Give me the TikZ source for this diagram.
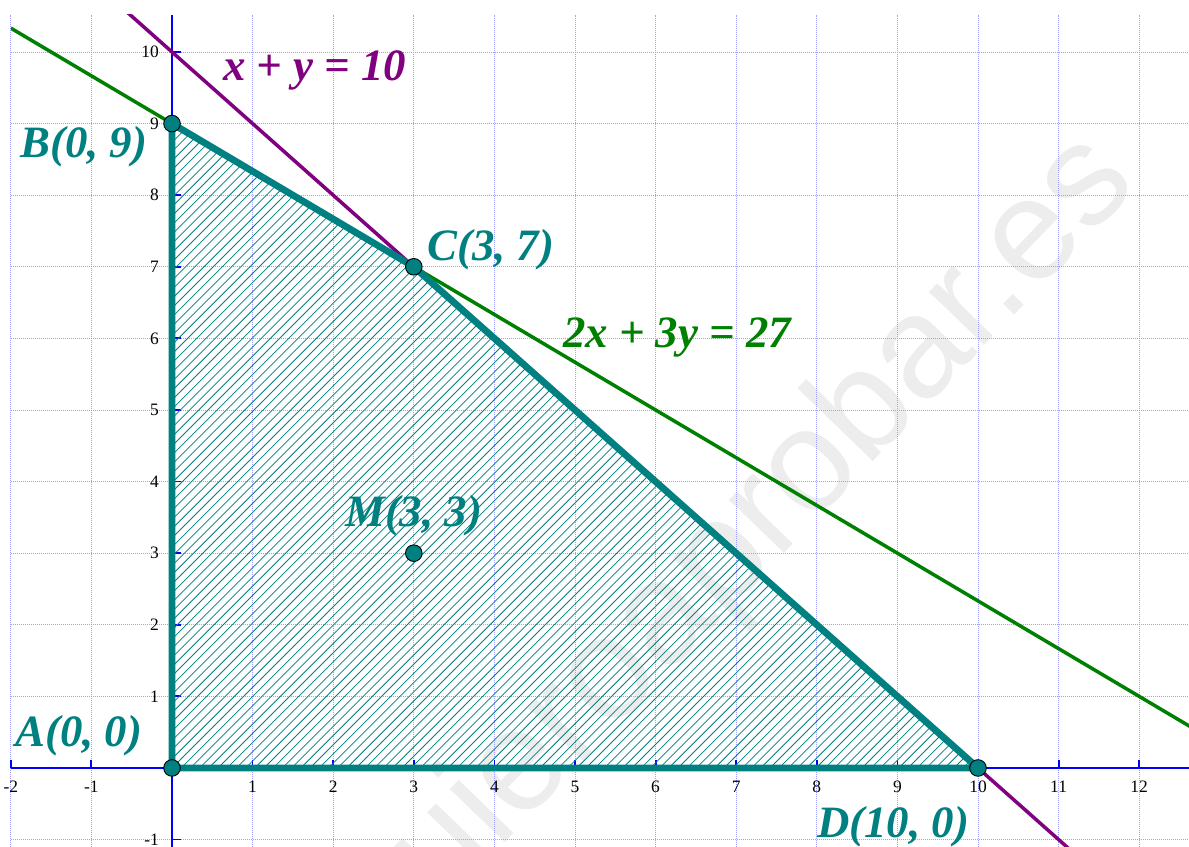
\documentclass[tikz,border=0pt]{standalone}
\usepackage{fontspec}
\setmainfont{Liberation Serif}
\newfontfamily\wmfont{Liberation Sans}
\definecolor{tealc}{RGB}{0,128,128}
\definecolor{purplec}{RGB}{128,0,128}
\definecolor{greenc}{RGB}{0,128,0}
\definecolor{gridc}{RGB}{160,160,255}
\definecolor{axisc}{RGB}{0,0,255}
\begin{document}
\begin{tikzpicture}[x=80.6bp,y=71.6bp,
  gridline/.style={gridc, line width=0.9bp, dash pattern=on 1bp off 1bp},
  axisline/.style={axisc, line width=2.2bp},
  tickmark/.style={axisc, line width=1.8bp},
  ticklabel/.style={font=\fontsize{17.5}{20}\selectfont, inner sep=0pt},
  ptlabel/.style={font=\fontsize{45}{54}\selectfont\bfseries\itshape, inner sep=0pt, anchor=base west},
  vertex/.style={circle, fill=tealc, draw=black, line width=0.9bp, minimum size=16.6bp, inner sep=0pt},
  hatchline/.style={tealc, line width=0.8bp},
  border/.style={tealc, line width=6.8bp, line join=round},
  watermark/.style={font=\wmfont\fontsize{145}{150}\selectfont, text=black!7, inner sep=0pt}
]
\useasboundingbox (-2.134,-1.103) rectangle (12.618,10.726);
\fill[white] (-2.134,-1.103) rectangle (12.618,10.726);

% watermark
\node[watermark, rotate=46, anchor=base east] (wm) at (12.01,8.14) {quieroaprobar.es};

% grid
\foreach \i in {-2,...,12} \draw[gridline] (\i,-1.103) -- (\i,10.52);
\foreach \j in {-1,...,10} \draw[gridline] (-2,\j) -- (12.618,\j);

% axes
\draw[axisline] (-2,0) -- (12.618,0);
\draw[axisline] (0,-1.103) -- (0,10.52);
\foreach \i in {-2,-1,1,2,3,4,5,6,7,8,9,10,11,12} {
  \draw[tickmark] (\i,0) -- ++(0,8bp);
  \node[ticklabel] (xl\i) at ([yshift=-19bp]\i,0) {\i};
}
\foreach \j in {-1,1,2,3,4,5,6,7,8,9,10} {
  \draw[tickmark] (0,\j) -- ++(9bp,0);
  \node[ticklabel, anchor=east] (yl\j) at ([xshift=-13bp]0,\j) {\j};
}

% lines
\begin{scope}
  \clip (-2,-1.103) rectangle (12.618,10.52);
  \draw[purplec, line width=3.5bp] (-0.6,10.6) -- (11.2,-1.2);
  \draw[greenc, line width=3.5bp] (-2,10.3333) -- (12.7,0.5333);
\end{scope}

% region
\coordinate (A) at (0,0);
\coordinate (B) at (0,9);
\coordinate (C) at (3,7);
\coordinate (D) at (10,0);
\coordinate (M) at (3,3);
\begin{scope}
  \clip (A) -- (B) -- (C) -- (D) -- cycle;
  \foreach \k in {-75,...,95} \draw[hatchline] (\k*9.2bp,0bp) -- ++(700bp,700bp);
\end{scope}
\draw[border] (A) -- (B) -- (C) -- (D) -- cycle;

% vertices
\node[vertex] (pA) at (A) {};
\node[vertex] (pB) at (B) {};
\node[vertex] (pC) at (C) {};
\node[vertex] (pD) at (D) {};
\node[vertex] (pM) at (M) {};

% labels
\node[ptlabel, text=tealc] (lB) at (-1.886,8.533) {B(0, 9)};
\node[ptlabel, text=purplec] (lxy) at (0.633,9.595) {x + y = 10};
\node[ptlabel, text=tealc] (lC) at (3.164,7.081) {C(3, 7)};
\node[ptlabel, text=greenc] (lgr) at (4.851,5.866) {2x + 3y = 27};
\node[ptlabel, text=tealc] (lM) at (2.146,3.366) {M(3, 3)};
\node[ptlabel, text=tealc] (lA) at (-1.948,0.293) {A(0, 0)};
\node[ptlabel, text=tealc] (lD) at (8.002,-0.964) {D(10, 0)};
\end{tikzpicture}
\end{document}
